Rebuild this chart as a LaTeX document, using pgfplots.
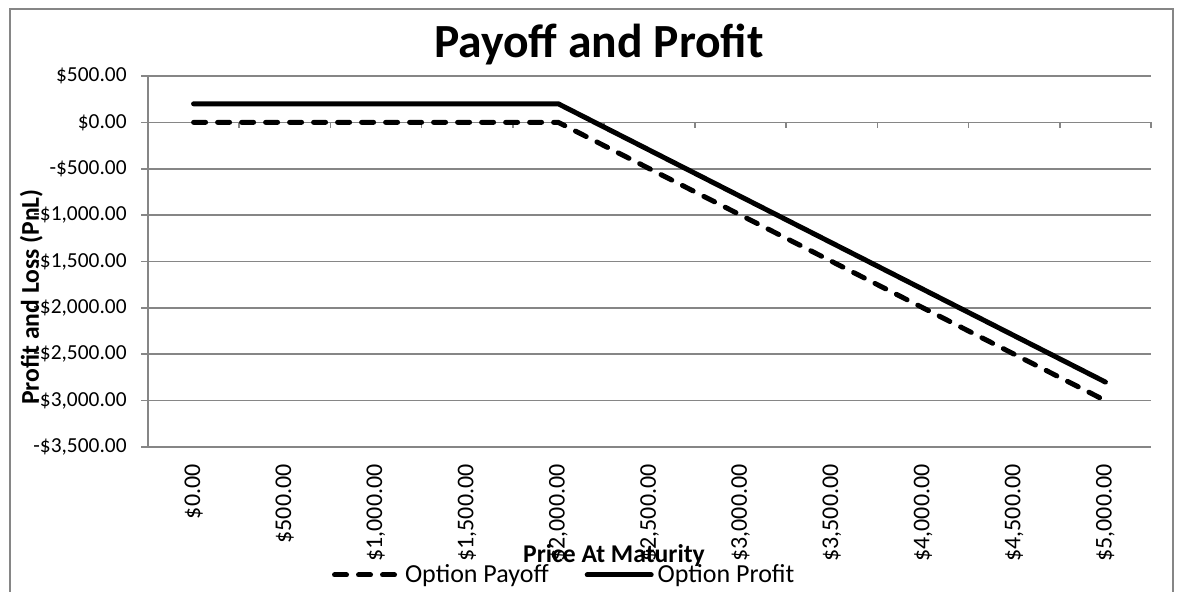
\documentclass[border=0pt]{standalone}
\usepackage{fontspec}
\setmainfont{Carlito}
\usepackage{pgfplots}
\pgfplotsset{compat=1.18}
\definecolor{axgray}{RGB}{134,134,134}
\begin{document}
\begin{tikzpicture}[x=0.5pt,y=0.5pt]
\useasboundingbox (0,0) rectangle (1187,592);
\draw[axgray, line width=0.8pt] (10,-5) -- (10,583) -- (1173,583) -- (1173,-5);
\begin{axis}[
  at={(74pt,72.5pt)}, anchor=south west,
  scale only axis, width=501.5pt, height=185.5pt,
  xmin=-0.5, xmax=10.5, ymin=-3500, ymax=500,
  axis x line*=bottom, axis y line*=left,
  axis line style={axgray, line width=0.8pt},
  xtick={0,...,10},
  xticklabels={{\$0.00},{\$500.00},{\$1,000.00},{\$1,500.00},{\$2,000.00},{\$2,500.00},{\$3,000.00},{\$3,500.00},{\$4,000.00},{\$4,500.00},{\$5,000.00}},
  xticklabel style={rotate=90, anchor=east, inner sep=0pt, font=\fontsize{12}{14}\selectfont},
  xticklabel shift=5pt,
  x tick style={draw=none},
  ytick={-3500,-3000,...,500},
  yticklabels={{-\$3,500.00},{-\$3,000.00},{-\$2,500.00},{-\$2,000.00},{-\$1,500.00},{-\$1,000.00},{-\$500.00},{\$0.00},{\$500.00}},
  yticklabel style={inner sep=0pt, font=\fontsize{10.7}{12}\selectfont},
  yticklabel shift=7pt,
  tick align=outside, major tick length=3.5pt,
  y tick style={axgray, line width=0.8pt},
  ymajorgrids, major grid style={axgray, line width=0.8pt},
  clip=false,
  legend style={at={(axis description cs:0.416,-0.345)}, anchor=center, draw=none, fill=none,
    legend columns=2, font=\fontsize{13}{15}\selectfont,
    /tikz/every even column/.append style={column sep=16pt}, inner sep=0pt},
  legend image code/.code={\draw[#1] (0pt,0pt) -- (32pt,0pt);},
]
\draw[axgray, line width=0.8pt] (axis cs:-0.5,0) -- (axis cs:10.5,0);
\pgfplotsinvokeforeach{-0.5,0.5,1.5,2.5,3.5,4.5,5.5,6.5,7.5,8.5,9.5,10.5}{
  \draw[axgray, line width=0.8pt] (axis cs:#1,0) -- ++(0pt,-3pt);
}
\addplot[black, line width=2.5pt, dash pattern=on 6pt off 6pt, line cap=round, line join=round] coordinates {
(0,0) (1,0) (2,0) (3,0) (4,0) (5,-500) (6,-1000) (7,-1500) (8,-2000) (9,-2500) (10,-3000)};
\addlegendentry{Option Payoff}
\addplot[black, line width=2.5pt, line cap=round, line join=round] coordinates {
(0,200) (1,200) (2,200) (3,200) (4,200) (5,-300) (6,-800) (7,-1300) (8,-1800) (9,-2300) (10,-2800)};
\addlegendentry{Option Profit}
\end{axis}
\node[font=\bfseries\fontsize{23.8}{28}\selectfont, anchor=base] at (599,534) {Payoff and Profit};
\node[font=\bfseries\fontsize{12.8}{15}\selectfont, anchor=base] at (614,29) {Price At Maturity};
\node[font=\bfseries\fontsize{12.8}{15}\selectfont, anchor=base, rotate=90] at (39,295) {Profit and Loss (PnL)};
\end{tikzpicture}
\end{document}
